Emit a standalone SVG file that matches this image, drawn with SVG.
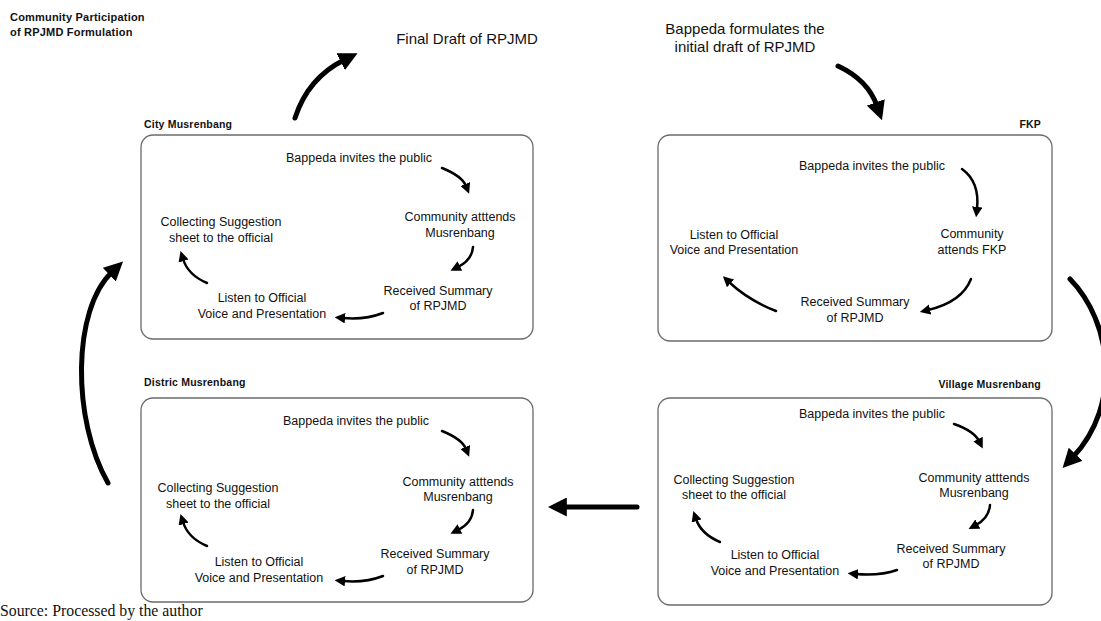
<svg xmlns="http://www.w3.org/2000/svg" width="1101" height="621" viewBox="0 0 1101 621">
  <style>
    .box { fill: #ffffff; stroke: #6b6b6b; stroke-width: 1.3; }
    .lbl { font-family: "Liberation Sans", Arial, sans-serif; font-size: 12.5px; fill: #111; text-anchor: middle; }
    .head { font-family: "Liberation Sans", Arial, sans-serif; font-size: 10.5px; font-weight: bold; fill: #111; letter-spacing: 0.2px; }
    .ttl { font-family: "Liberation Sans", Arial, sans-serif; font-size: 11px; font-weight: bold; fill: #111; letter-spacing: 0.2px; }
    .big-lbl { font-family: "Liberation Sans", Arial, sans-serif; font-size: 15px; fill: #111; text-anchor: middle; }
    .step { fill: none; stroke: #000; stroke-width: 2.5; stroke-linecap: round; marker-end: url(#tipS); }
    .flow { fill: none; stroke: #000; stroke-width: 5; stroke-linecap: round; marker-end: url(#tipL); }
  </style>
  <defs>
    <marker id="tipS" viewBox="0 0 10 10" refX="2" refY="5" markerWidth="4.2" markerHeight="4.2" orient="auto" markerUnits="strokeWidth">
      <path d="M0,0 L10,5 L0,10 z" fill="#000"/>
    </marker>
    <marker id="tipL" viewBox="0 0 10 10" refX="2" refY="5" markerWidth="3.8" markerHeight="3.8" orient="auto" markerUnits="strokeWidth">
      <path d="M0,0 L10,5 L0,10 z" fill="#000"/>
    </marker>
  </defs>

  <rect width="1101" height="621" fill="#ffffff"/>

  <!-- title -->
  <g id="title">
    <text class="ttl" x="10" y="21">Community Participation</text>
    <text class="ttl" x="10" y="36">of RPJMD Formulation</text>
  </g>

  <g id="final-draft">
    <text class="big-lbl" x="467" y="44">Final Draft of RPJMD</text>
  </g>

  <g id="initial-draft">
    <text class="big-lbl" x="745" y="34">Bappeda formulates the</text>
    <text class="big-lbl" x="745" y="52">initial draft of RPJMD</text>
  </g>

  <!-- City Musrenbang -->
  <g id="city-musrenbang">
    <text class="head" x="144" y="128">City Musrenbang</text>
    <rect class="box" x="141" y="135" width="392" height="204" rx="12"/>
    <text class="lbl" x="359" y="162">Bappeda invites the public</text>
    <text class="lbl" x="460" y="221">Community atttends</text>
    <text class="lbl" x="460" y="237">Musrenbang</text>
    <text class="lbl" x="438" y="295">Received Summary</text>
    <text class="lbl" x="438" y="310">of RPJMD</text>
    <text class="lbl" x="262" y="302">Listen to Official</text>
    <text class="lbl" x="262" y="318">Voice and Presentation</text>
    <text class="lbl" x="221" y="226">Collecting Suggestion</text>
    <text class="lbl" x="221" y="242">sheet to the official</text>
    <path class="step" d="M442,168 Q462,176 466,186"/>
    <path class="step" d="M473,247 Q472,260 458,267"/>
    <path class="step" d="M383,313 Q365,320 343,318"/>
    <path class="step" d="M207,283 Q188,275 183,259"/>
  </g>

  <!-- FKP -->
  <g id="fkp">
    <text class="head" x="1041" y="128" text-anchor="end">FKP</text>
    <rect class="box" x="658" y="135" width="394" height="206" rx="12"/>
    <text class="lbl" x="872" y="170">Bappeda invites the public</text>
    <text class="lbl" x="972" y="238">Community</text>
    <text class="lbl" x="972" y="254">attends FKP</text>
    <text class="lbl" x="855" y="306">Received Summary</text>
    <text class="lbl" x="855" y="322">of RPJMD</text>
    <text class="lbl" x="734" y="239">Listen to Official</text>
    <text class="lbl" x="734" y="254">Voice and Presentation</text>
    <path class="step" d="M962,169 Q980,182 977,209"/>
    <path class="step" d="M971,279 Q962,302 928,310"/>
    <path class="step" d="M776,311 Q748,300 729,282"/>
  </g>

  <!-- Distric Musrenbang -->
  <g id="distric-musrenbang">
    <text class="head" x="144" y="386">Distric Musrenbang</text>
    <rect class="box" x="141" y="398" width="392" height="204" rx="12"/>
    <text class="lbl" x="356" y="425">Bappeda invites the public</text>
    <text class="lbl" x="458" y="486">Community atttends</text>
    <text class="lbl" x="458" y="501">Musrenbang</text>
    <text class="lbl" x="435" y="558">Received Summary</text>
    <text class="lbl" x="435" y="574">of RPJMD</text>
    <text class="lbl" x="259" y="566">Listen to Official</text>
    <text class="lbl" x="259" y="582">Voice and Presentation</text>
    <text class="lbl" x="218" y="492">Collecting Suggestion</text>
    <text class="lbl" x="218" y="508">sheet to the official</text>
    <path class="step" d="M442,431 Q462,439 466,449"/>
    <path class="step" d="M473,510 Q472,523 458,530"/>
    <path class="step" d="M383,576 Q365,583 343,581"/>
    <path class="step" d="M207,546 Q188,538 183,522"/>
  </g>

  <!-- Village Musrenbang -->
  <g id="village-musrenbang">
    <text class="head" x="1041" y="388" text-anchor="end">Village Musrenbang</text>
    <rect class="box" x="658" y="398" width="394" height="207" rx="12"/>
    <text class="lbl" x="872" y="418">Bappeda invites the public</text>
    <text class="lbl" x="974" y="482">Community atttends</text>
    <text class="lbl" x="974" y="497">Musrenbang</text>
    <text class="lbl" x="951" y="553">Received Summary</text>
    <text class="lbl" x="951" y="568">of RPJMD</text>
    <text class="lbl" x="775" y="559">Listen to Official</text>
    <text class="lbl" x="775" y="575">Voice and Presentation</text>
    <text class="lbl" x="734" y="484">Collecting Suggestion</text>
    <text class="lbl" x="734" y="499">sheet to the official</text>
    <path class="step" d="M954,424 Q974,431 979,441"/>
    <path class="step" d="M990,505 Q989,518 976,525"/>
    <path class="step" d="M897,570 Q880,576 856,574"/>
    <path class="step" d="M720,542 Q701,534 696,519"/>
  </g>

  <!-- stage-to-stage flow -->
  <g id="connectors">
    <path class="flow" d="M838,66 Q868,80 877,106"/>
    <path class="flow" d="M1070,279 C1112,322 1122,405 1073,457"/>
    <path class="flow" d="M637,507 L563,507"/>
    <path class="flow" d="M108,483 C72,420 72,310 112,272"/>
    <path class="flow" d="M295,118 Q308,78 344,60"/>
  </g>

  <text x="0" y="616" style="font-family:'Liberation Serif','Times New Roman',serif;font-size:15.8px" fill="#111">Source: Processed by the author</text>
</svg>
